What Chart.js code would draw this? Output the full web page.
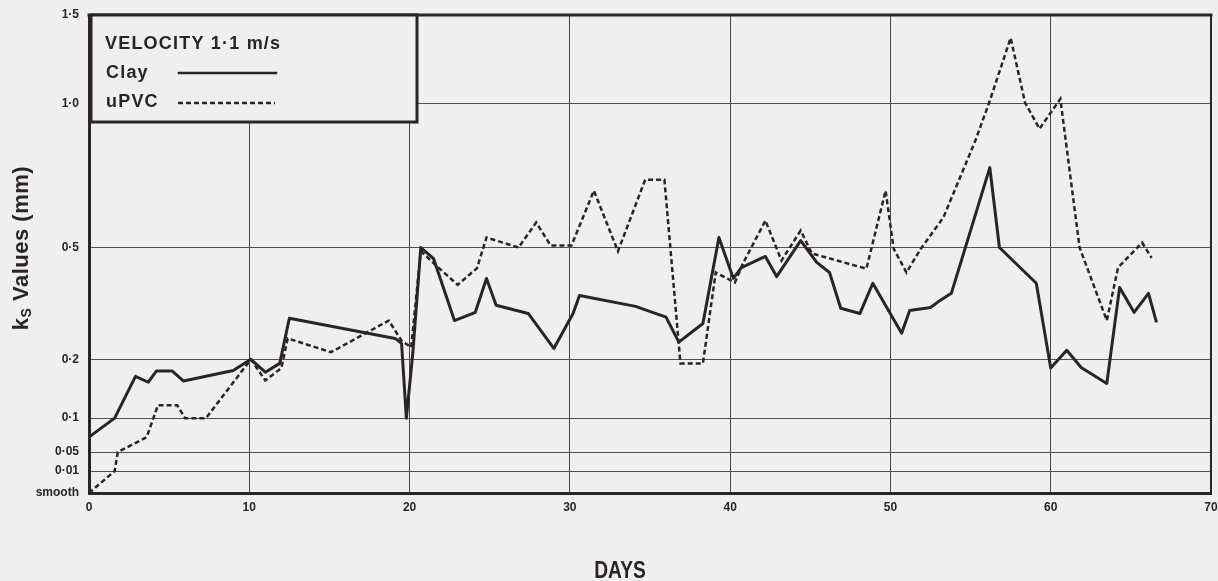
<!DOCTYPE html>
<html><head><meta charset="utf-8">
<script src="https://cdn.jsdelivr.net/npm/chart.js@4"></script>
<style>html,body{margin:0;padding:0;background:#efefef}#wrap{width:1218px;height:581px;position:relative}</style>
</head><body><div id="wrap"><canvas id="c"></canvas></div>
<script>
// ---- data ----
const yTickValues = [0, 0.01, 0.05, 0.1, 0.2, 0.5, 1.0, 1.5];
const yTickLabels = ['smooth', '0·01', '0·05', '0·1', '0·2', '0·5', '1·0', '1·5'];
const xTickLabels = ['0', '10', '20', '30', '40', '50', '60', '70'];

const clayDays = [0,1.6,2.9,3.7,4.2,5.2,5.9,9.0,10.1,11.0,11.9,12.5,19.1,19.5,19.8,20.2,20.7,21.5,22.8,24.1,24.8,25.4,27.4,29.0,30.2,30.6,34.1,36.0,36.8,38.3,39.3,40.2,40.7,42.2,42.9,44.4,45.4,46.2,46.9,48.1,48.9,50.7,51.2,52.5,53.1,53.8,56.2,56.8,59.1,60.0,61.0,61.9,63.5,64.3,65.2,66.1,66.6];
const clayKs = [0.072,0.1,0.171,0.161,0.18,0.18,0.163,0.181,0.2,0.178,0.193,0.31,0.256,0.243,0.1,0.216,0.5,0.47,0.304,0.326,0.417,0.345,0.323,0.229,0.323,0.371,0.342,0.313,0.246,0.296,0.535,0.417,0.446,0.476,0.422,0.524,0.46,0.433,0.337,0.323,0.404,0.27,0.331,0.339,0.358,0.377,0.778,0.5,0.404,0.185,0.224,0.186,0.159,0.393,0.326,0.377,0.299];

const upvcDays = [0,1.6,1.8,3.6,4.3,5.5,6.0,7.3,10.1,11.0,12.0,12.4,15.1,18.7,19.5,20.1,20.7,21.8,23.0,24.2,24.8,26.8,27.9,28.8,30.1,31.5,33.0,34.7,35.9,36.9,38.3,39.1,40.3,40.8,42.2,43.2,44.4,45.1,48.5,49.7,50.2,51.0,51.9,53.3,55.3,56.2,57.5,58.4,59.3,60.6,61.8,63.5,64.2,65.7,66.3];
const upvcKs = [0,0.01,0.05,0.072,0.122,0.122,0.1,0.1,0.2,0.164,0.185,0.256,0.219,0.304,0.25,0.232,0.49,0.446,0.4,0.444,0.535,0.5,0.587,0.507,0.507,0.698,0.49,0.736,0.736,0.193,0.193,0.433,0.406,0.457,0.594,0.465,0.559,0.484,0.443,0.698,0.497,0.433,0.497,0.604,0.872,1.017,1.371,1.006,0.913,1.028,0.5,0.304,0.446,0.517,0.472];

// ---- non-linear axis definition (ks value -> axis units), as printed on the original graph paper ----
const axisUnits = [0, 22, 41, 75, 134, 246, 390, 479];
function toAxis(v) {
  for (let i = 1; i < yTickValues.length; i++) {
    if (v <= yTickValues[i]) {
      const a = yTickValues[i-1], b = yTickValues[i];
      return axisUnits[i-1] + (v - a) / (b - a) * (axisUnits[i] - axisUnits[i-1]);
    }
  }
  return axisUnits[axisUnits.length-1];
}
const pts = (days, ks) => days.map((d, i) => ({x: d, y: toAxis(ks[i])}));

const BG = '#efefef', INK = '#2a2523';

const framePlugin = {
  id: 'frame',
  afterDraw(chart) {
    const ctx = chart.ctx, a = chart.chartArea;
    ctx.save();
    ctx.strokeStyle = INK; ctx.lineCap = 'square';
    ctx.lineWidth = 3;
    ctx.beginPath(); ctx.moveTo(a.left, a.top); ctx.lineTo(a.right, a.top); ctx.stroke();
    ctx.lineWidth = 2;
    ctx.beginPath(); ctx.moveTo(a.right, a.top); ctx.lineTo(a.right, a.bottom); ctx.stroke();
    // legend box
    const bx = a.left + 2, by = a.top, bw = 326, bh = 107;
    ctx.fillStyle = BG; ctx.fillRect(bx, by, bw, bh);
    ctx.lineWidth = 3; ctx.strokeRect(bx, by, bw, bh);
    ctx.fillStyle = INK;
    ctx.font = 'bold 18px "Liberation Sans", Arial, sans-serif';
    ctx.letterSpacing = '1.2px';
    ctx.textBaseline = 'alphabetic';
    ctx.fillText('VELOCITY 1·1 m/s', bx + 14, by + 34);
    ctx.fillText('Clay', bx + 15, by + 63);
    ctx.fillText('uPVC', bx + 15, by + 92);
    ctx.letterSpacing = '0px';
    ctx.lineWidth = 2.5;
    ctx.beginPath(); ctx.moveTo(bx + 88, by + 58); ctx.lineTo(bx + 185, by + 58); ctx.stroke();
    ctx.setLineDash([5, 3]); ctx.lineWidth = 2.5; ctx.lineCap = 'butt';
    ctx.beginPath(); ctx.moveTo(bx + 87, by + 88); ctx.lineTo(bx + 184, by + 88); ctx.stroke();
    ctx.setLineDash([]);
    // y title with subscript
    ctx.save();
    ctx.translate(22, 248);
    ctx.rotate(-Math.PI / 2);
    ctx.letterSpacing = '0.5px';
    const f1 = 'bold 22px "Liberation Sans", Arial, sans-serif';
    const f2 = 'bold 14px "Liberation Sans", Arial, sans-serif';
    ctx.font = f1; const wk = ctx.measureText('k').width;
    const rest = ' Values (mm)'; const wr = ctx.measureText(rest).width;
    ctx.font = f2; const ws = ctx.measureText('S').width;
    let x0 = -(wk + ws + wr) / 2;
    ctx.textBaseline = 'middle';
    ctx.font = f1; ctx.fillText('k', x0, 0);
    ctx.font = f2; ctx.fillText('S', x0 + wk, 5);
    ctx.font = f1; ctx.fillText(rest, x0 + wk + ws, 0);
    ctx.restore();
    // x title (condensed)
    ctx.save();
    ctx.translate(620, 578);
    ctx.scale(0.8, 1);
    ctx.font = 'bold 24px "Liberation Sans", Arial, sans-serif';
    ctx.textAlign = 'center'; ctx.textBaseline = 'alphabetic';
    ctx.fillText('DAYS', 0, 0);
    ctx.restore();
    ctx.restore();
  }
};

new Chart(document.getElementById('c'), {
  type: 'line',
  data: {
    datasets: [
      {label: 'Clay', data: pts(clayDays, clayKs), borderColor: INK, borderWidth: 3, pointRadius: 0, tension: 0, fill: false, borderJoinStyle: 'round'},
      {label: 'uPVC', data: pts(upvcDays, upvcKs), borderColor: INK, borderWidth: 2.5, borderDash: [5, 3], pointRadius: 0, tension: 0, fill: false}
    ]
  },
  options: {
    responsive: true, maintainAspectRatio: false, animation: false,
    layout: {padding: {top: 15, right: 7, left: 0, bottom: 0}},
    plugins: {legend: {display: false}, tooltip: {enabled: false}},
    scales: {
      x: {
        type: 'linear', min: 0, max: 70,
        afterBuildTicks: s => { s.ticks = xTickLabels.map(t => ({value: Number(t)})); },
        ticks: {autoSkip: false, maxRotation: 0, padding: 7, color: INK,
          font: {family: '"Liberation Sans", Arial, sans-serif', weight: 'bold', size: 12},
          callback: v => xTickLabels[xTickLabels.indexOf(String(v))]},
        grid: {color: '#4a4542', lineWidth: 1, drawTicks: false},
        border: {display: true, color: INK, width: 3},
        afterFit: s => { s.height = 88; s.paddingRight = 0; s.paddingLeft = 0; }
      },
      y: {
        type: 'linear', min: 0, max: axisUnits[axisUnits.length-1],
        afterBuildTicks: s => { s.ticks = axisUnits.map(v => ({value: v})); },
        ticks: {autoSkip: false, padding: 10, color: INK,
          font: {family: '"Liberation Sans", Arial, sans-serif', weight: 'bold', size: 12},
          callback: v => yTickLabels[axisUnits.indexOf(v)]},
        grid: {color: '#5a5046', lineWidth: 1, drawTicks: false},
        border: {display: true, color: INK, width: 3},
        afterFit: s => { s.width = 89; s.paddingTop = 0; s.paddingBottom = 0; }
      }
    }
  },
  plugins: [framePlugin]
});
</script></body></html>
